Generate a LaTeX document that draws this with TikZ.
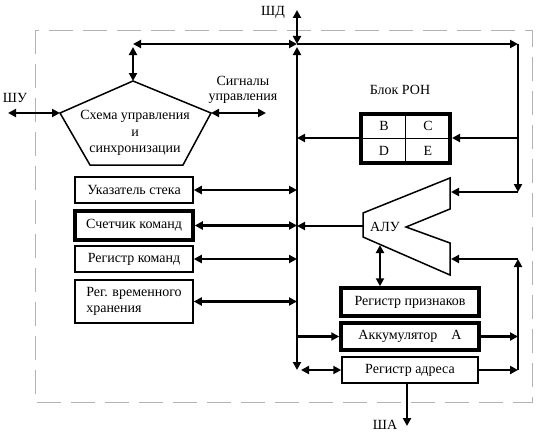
\documentclass[tikz,border=0pt]{standalone}
\usepackage{fontspec}
\setmainfont{Liberation Serif}
\usetikzlibrary{arrows.meta, positioning, calc}

\begin{document}
\begin{tikzpicture}[x=1pt, y=-1pt, font=\fontsize{14}{16.5}\selectfont,
    >={Triangle[length=8pt,width=8pt]},
    bus/.style={line width=2.6pt},
    reg/.style={rectangle, draw, line width=1.5pt, minimum width=118pt,
      minimum height=26pt, inner sep=2pt},
    regthick/.style={reg, line width=3.5pt},
    ronbox/.style={rectangle, draw, line width=4pt, minimum width=89pt,
      minimum height=49pt},
    frame/.style={gray!60, line width=0.8pt, dash pattern=on 24pt off 10pt},
  ]
    \useasboundingbox (0,0) rectangle (537,436);
    \draw[frame] (35,30) rectangle (532,402);

    % control unit
    \coordinate (pt)  at (133,81);
    \coordinate (pl)  at (60,113);
    \coordinate (pr)  at (211,113);
    \coordinate (pbl) at (90,165);
    \coordinate (pbr) at (183,165);
    \draw[line width=1.5pt] (pt) -- (pr) -- (pbr) -- (pbl) -- (pl) -- cycle;
    \node[align=center] (cu) at (135,133) {Схема управления\\и\\синхронизации};
    \node (shulbl) at (15,98) {ШУ};
    \node[align=center, font=\fontsize{14}{15}\selectfont] (siglbl) at (243,90) {Сигналы\\управления};
    \coordinate (shu) at (8,113);
    \coordinate (sig) at (266,113);

    % left registers
    \node[reg] (sp) at (134,190) {Указатель стека};
    \node[regthick, minimum height=29pt] (pc) at (134,225.5) {Счетчик команд};
    \node[reg] (ir) at (134,259) {Регистр команд};
    \node[reg, minimum height=43pt, align=left] (tmp) at (134,301.5) {Рег. временного\\хранения};

    % register block
    \node (ronlbl) at (400,90) {Блок РОН};
    \node[ronbox] (ron) at (405.5,138) {};
    \draw[line width=1pt] (ron.north) -- (ron.south);
    \draw[line width=1pt] (ron.west) -- (ron.east);
    \node (rb) at (384,126) {B};
    \node (rc) at (428,126) {C};
    \node (rd) at (384,151) {D};
    \node (re) at (428,151) {E};

    % ALU
    \draw[line width=1.5pt] (363,213) -- (450,178) -- (450,209) -- (406,227)
      -- (450,243) -- (450,275) -- (363,237) -- cycle;
    \node (alulbl) at (385,227) {АЛУ};
    \coordinate (aluout)  at (363,226);
    \coordinate (aluin1)  at (451,192);
    \coordinate (aluin2)  at (451,259);
    \coordinate (aluflag) at (380,245);

    % right registers
    \node[regthick, minimum width=138pt, minimum height=28pt] (flags) at (410,302) {Регистр признаков};
    \node[regthick, minimum width=138pt, minimum height=27pt] (acc) at (410,336.5) {Аккумулятор\quad А};
    \node[reg, minimum width=136pt] (addr) at (410,370) {Регистр адреса};
    \node (shalbl) at (385,425) {ША};
    \coordinate (sha) at (407,426);

    % buses
    \coordinate (junc)  at (297,44);
    \coordinate (shd)   at (297,10);
    \node (shdlbl) at (273,12) {ШД};
    \coordinate (busbot) at (297,370);
    \coordinate (cutop) at (133,44);
    \coordinate (rtop)  at (518,44);
    \coordinate (rmid1) at (518,192);
    \coordinate (rron)  at (518,138);
    \coordinate (rmid2) at (518,259);
    \coordinate (rbot)  at (518,370);

    \draw[bus,<->] (junc) -- (shd);
    \draw[bus,<->] ([yshift=-3pt]junc) -- (busbot);
    \draw[bus,<->] (cutop) -- (junc);
    \draw[bus,<->] ([yshift=-3pt]cutop) -- (pt);
    \draw[bus,->] (junc) -- (rtop);
    \draw[bus,->] (rtop) -- (rmid1);
    \draw[bus,->] (rmid1) -- (aluin1);
    \draw[bus,->] (rron) -- (ron.east);
    \draw[bus,->] (ron.west) -- (ron.west -| junc);
    \draw[bus,<->] (shu) -- (pl);
    \draw[bus,<->] (pr) -- (sig);
    \foreach \n in {sp,pc,ir,tmp}
      \draw[bus,<->] (\n.east) -- (\n.east -| junc);
    \draw[bus,->] (aluout) -- (aluout -| junc);
    \draw[bus,<->] (aluflag) -- (aluflag |- flags.north);
    \draw[bus,->] (acc.west -| junc) -- (acc.west);
    \draw[bus,<->] ([xshift=4pt]addr.west -| junc) -- (addr.west);
    \draw[bus,->] (rbot) -- (rmid2);
    \draw[bus,->] (rmid2) -- (aluin2);
    \draw[bus,->] (acc.east) -- (acc.east -| rbot);
    \draw[bus,->] (addr.east) -- (rbot);
    \draw[bus,->] ([xshift=-3pt]addr.south) -- (sha);
\end{tikzpicture}
\end{document}
